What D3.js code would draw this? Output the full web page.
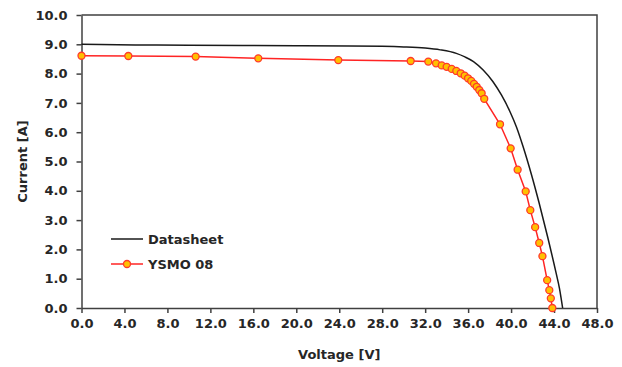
<!DOCTYPE html>
<html>
<head>
<meta charset="utf-8">
<script src="https://cdn.jsdelivr.net/npm/d3@7"></script>
<style>
  body { margin: 0; background: #fff; }
  svg text { font-family: "DejaVu Sans", sans-serif; font-weight: bold; fill: #262626; }
</style>
</head>
<body>
<svg id="chart" width="622" height="367"></svg>
<script>
// Tick labels
const xTicks = [0, 4, 8, 12, 16, 20, 24, 28, 32, 36, 40, 44, 48];
const yTicks = [0, 1, 2, 3, 4, 5, 6, 7, 8, 9, 10];
const seriesNames = ['Datasheet', 'YSMO 08'];

// Datasheet I-V curve (voltage V, current A)
const datasheetV = [0, 5, 10, 15, 20, 25, 28, 30, 32, 33.4, 34.9, 35.7, 36.5, 37.4, 38.3, 39.1, 39.9, 40.5, 41.1, 41.9, 42.6, 43.4, 44.2, 44.5, 44.8];
const datasheetI = [9.00, 8.98, 8.97, 8.96, 8.95, 8.94, 8.93, 8.91, 8.87, 8.81, 8.69, 8.57, 8.41, 8.12, 7.73, 7.27, 6.70, 6.18, 5.53, 4.55, 3.60, 2.43, 1.18, 0.68, 0.00];

// Measured YSMO 08 points
const ysmoV = [0, 4.36, 10.63, 16.46, 23.91, 30.65, 32.29, 33.01, 33.54, 34.0, 34.47, 34.9, 35.31, 35.68, 35.99, 36.29, 36.55, 36.8, 37.04, 37.26, 37.5, 38.97, 39.96, 40.61, 41.36, 41.79, 42.24, 42.62, 42.92, 43.36, 43.56, 43.7, 43.84];
const ysmoI = [8.61, 8.60, 8.58, 8.52, 8.46, 8.43, 8.41, 8.35, 8.28, 8.23, 8.16, 8.09, 8.01, 7.93, 7.84, 7.75, 7.65, 7.55, 7.44, 7.33, 7.14, 6.27, 5.45, 4.72, 3.98, 3.34, 2.76, 2.22, 1.77, 0.95, 0.61, 0.33, 0.00];

const margin = { top: 15, right: 25, bottom: 59, left: 81.5 };
const width = 622 - margin.left - margin.right;
const height = 367 - margin.top - margin.bottom;

const svg = d3.select('#chart');
const g = svg.append('g').attr('transform', `translate(${margin.left}, ${margin.top})`);

const x = d3.scaleLinear().domain([0, 48]).range([0, width]);
const y = d3.scaleLinear().domain([0, 10]).range([height, 0]);

// Axes
const xAxis = g.append('g')
  .attr('transform', `translate(0, ${height})`)
  .call(d3.axisBottom(x).tickValues(xTicks).tickFormat(d3.format('.1f')).tickSize(5).tickSizeOuter(0).tickPadding(6));
const yAxis = g.append('g')
  .call(d3.axisLeft(y).tickValues(yTicks).tickFormat(d3.format('.1f')).tickSize(5).tickSizeOuter(0).tickPadding(9));

[xAxis, yAxis].forEach(a => {
  a.selectAll('path, line').attr('stroke', '#404040').attr('stroke-width', 1.5);
  a.selectAll('text').attr('font-size', 13).attr('fill', '#262626')
    .style('font-family', '"DejaVu Sans", sans-serif').style('font-weight', 'bold');
});

// Plot frame (top and right edges)
g.append('path')
  .attr('d', `M0,0H${width}V${height}`)
  .attr('fill', 'none')
  .attr('stroke', '#404040')
  .attr('stroke-width', 1.5);

// Datasheet curve
const dsData = datasheetV.map((v, i) => ({ v, c: datasheetI[i] }));
g.append('path')
  .datum(dsData)
  .attr('fill', 'none')
  .attr('stroke', '#1a1a1a')
  .attr('stroke-width', 1.5)
  .attr('d', d3.line().x(d => x(d.v)).y(d => y(d.c)).curve(d3.curveMonotoneX));

// Measured curve
const ysData = ysmoV.map((v, i) => ({ v, c: ysmoI[i] }));
g.append('path')
  .datum(ysData)
  .attr('fill', 'none')
  .attr('stroke', '#ff2424')
  .attr('stroke-width', 1.5)
  .attr('d', d3.line().x(d => x(d.v)).y(d => y(d.c)));

g.selectAll('circle.pt')
  .data(ysData)
  .enter()
  .append('circle')
  .attr('class', 'pt')
  .attr('cx', d => x(d.v))
  .attr('cy', d => y(d.c))
  .attr('r', 3.5)
  .attr('fill', '#ffc000')
  .attr('stroke', '#ff3a2a')
  .attr('stroke-width', 1.3);

// Axis titles
svg.append('text')
  .attr('x', margin.left + width / 2)
  .attr('y', 359)
  .attr('text-anchor', 'middle')
  .attr('font-size', 13)
  .text('Voltage [V]');

svg.append('text')
  .attr('transform', `translate(27, ${margin.top + height / 2}) rotate(-90)`)
  .attr('text-anchor', 'middle')
  .attr('font-size', 13)
  .text('Current [A]');

// Legend
const legend = svg.append('g').attr('transform', 'translate(111, 239)');
seriesNames.forEach((name, i) => {
  const row = legend.append('g').attr('transform', `translate(0, ${i * 25})`);
  row.append('line')
    .attr('x1', 0).attr('x2', 32).attr('y1', 0).attr('y2', 0)
    .attr('stroke', i === 0 ? '#1a1a1a' : '#ff2424')
    .attr('stroke-width', 1.5);
  if (i === 1) {
    row.append('circle').attr('cx', 16).attr('cy', 0).attr('r', 3.5)
      .attr('fill', '#ffc000').attr('stroke', '#ff3a2a').attr('stroke-width', 1.3);
  }
  row.append('text')
    .attr('x', 37).attr('y', 5)
    .attr('font-size', 13)
    .text(name);
});
</script>
</body>
</html>
